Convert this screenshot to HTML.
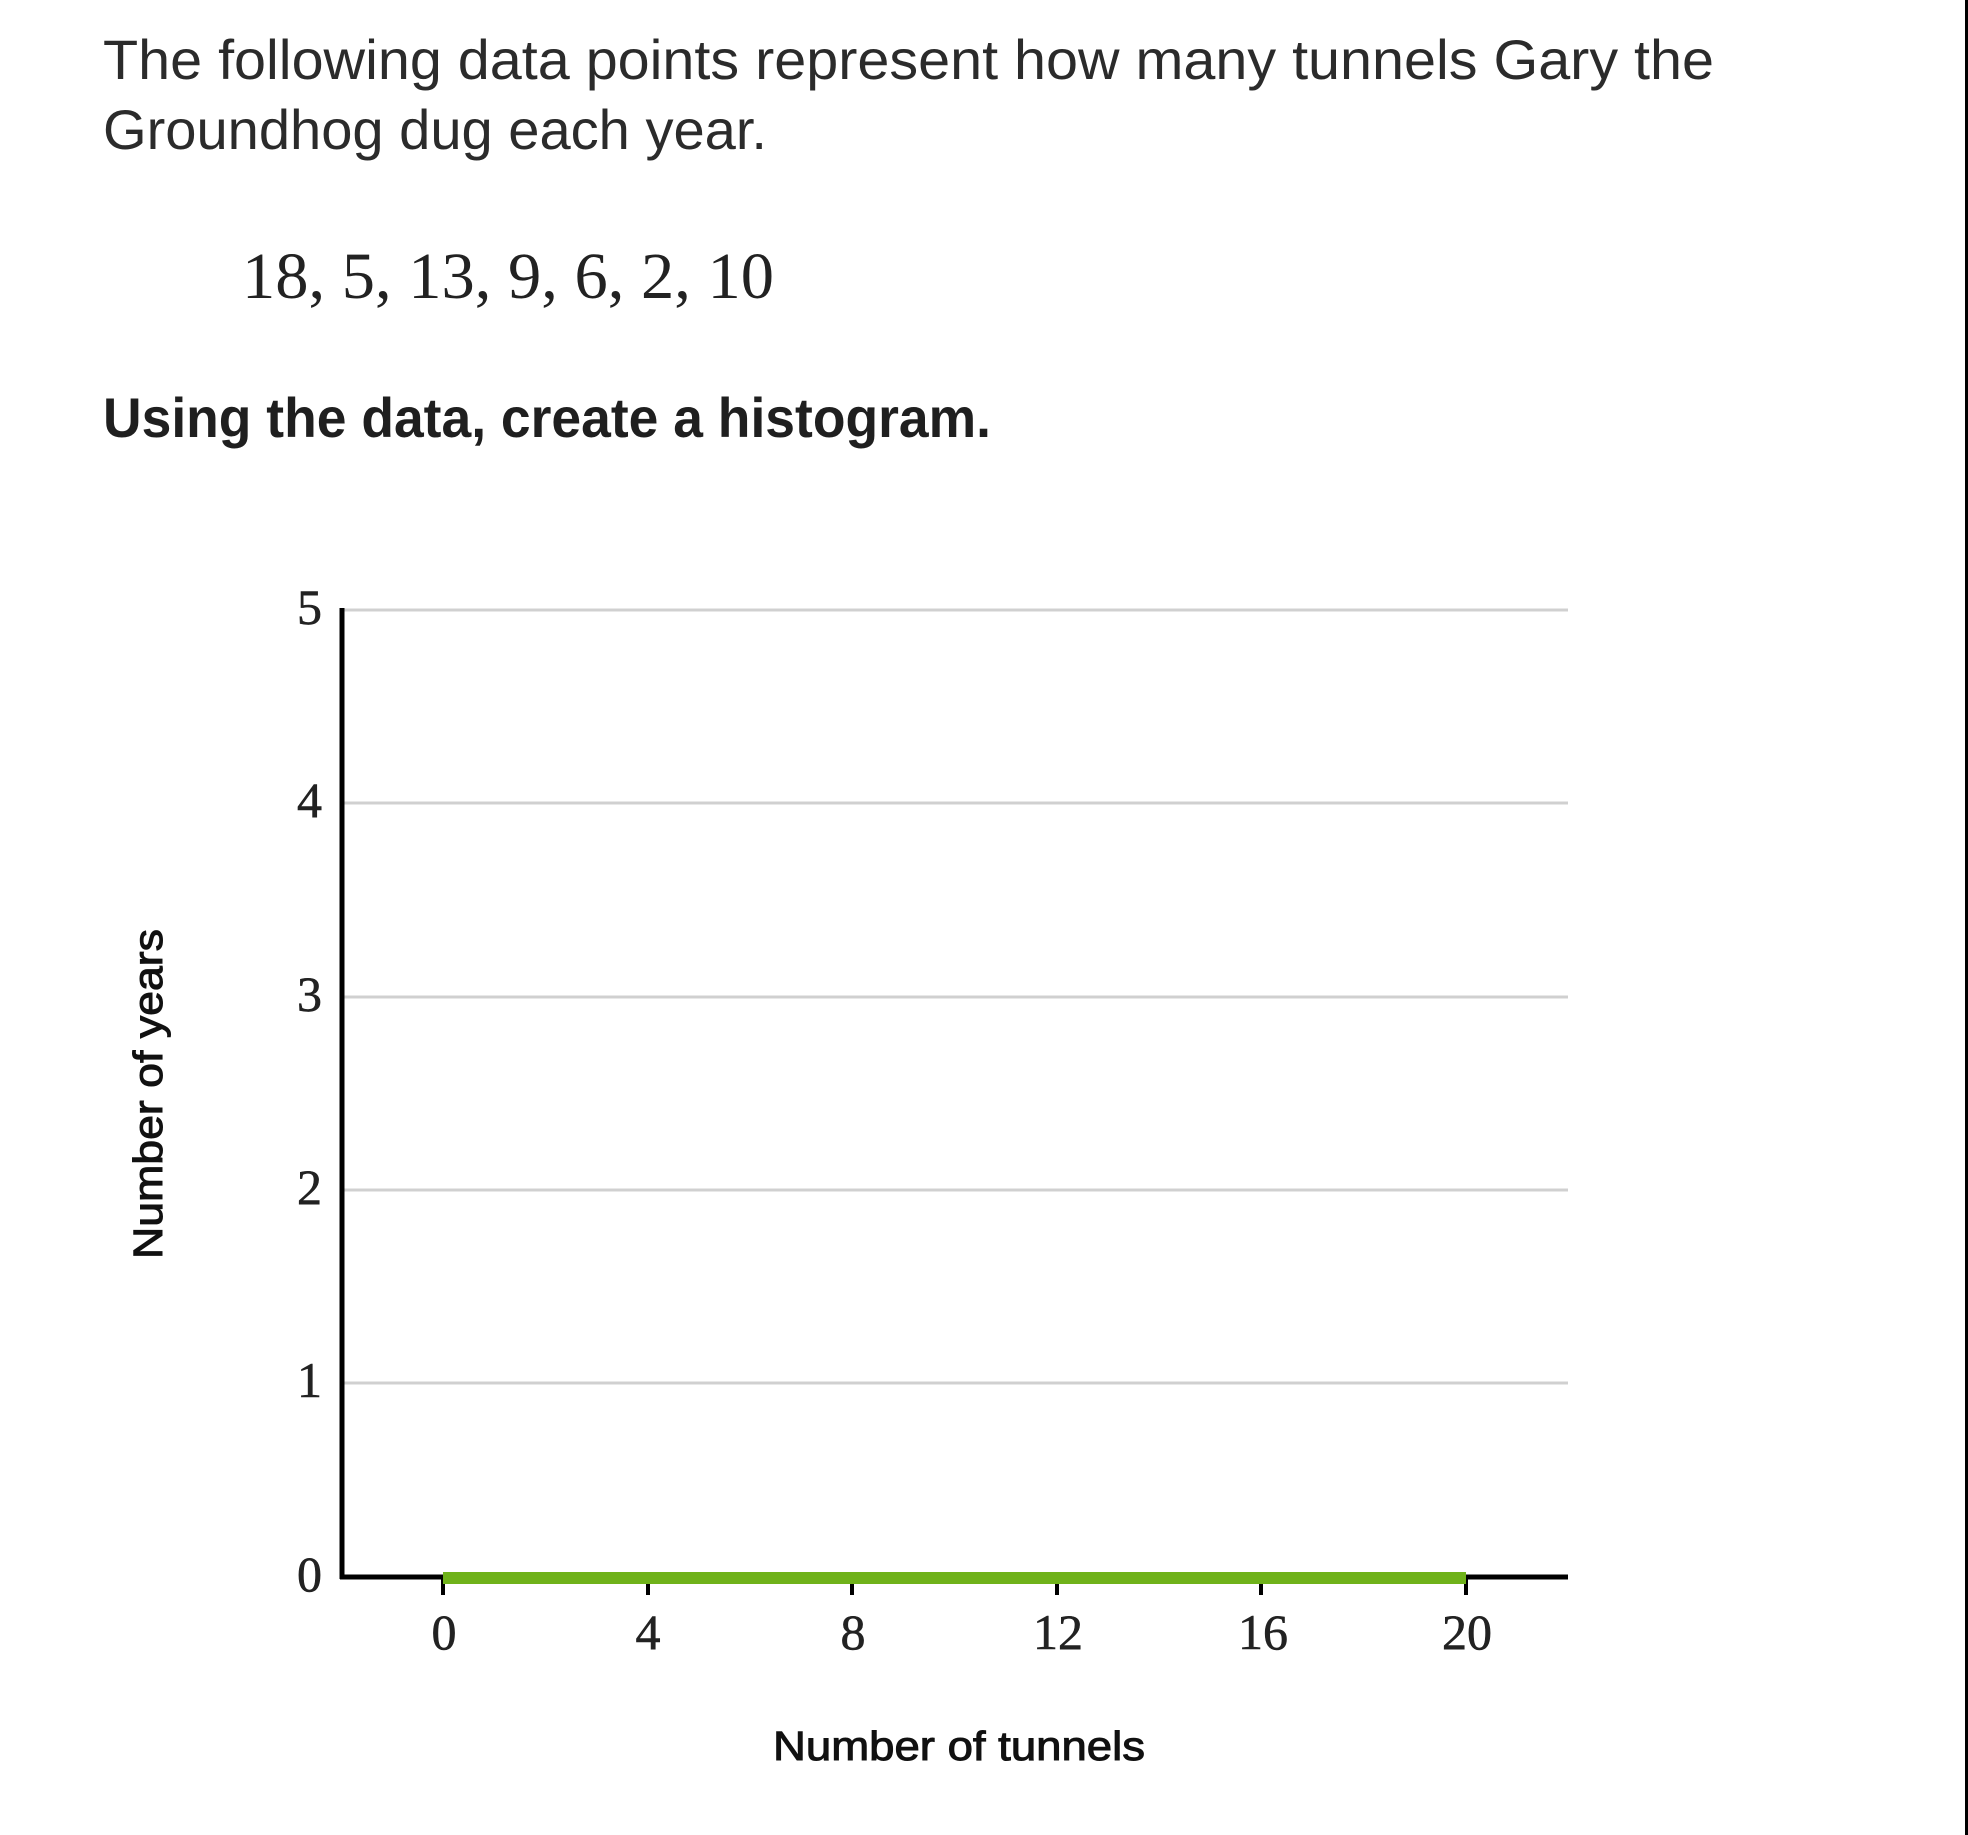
<!DOCTYPE html>
<html><head><meta charset="utf-8"><style>
html,body{margin:0;padding:0;background:#fff;}
svg{display:block;}
</style></head><body>
<svg width="1968" height="1835" viewBox="0 0 1968 1835" xmlns="http://www.w3.org/2000/svg">
<rect width="1968" height="1835" fill="#fff"/>
<rect x="1965" y="0" width="3" height="1835" fill="#000"/>
<g font-family="'Liberation Sans', sans-serif" fill="#2b2b2b">
<text x="103" y="79" font-size="56" textLength="1611" lengthAdjust="spacingAndGlyphs">The following data points represent how many tunnels Gary the</text>
<text x="103" y="149" font-size="56" textLength="664" lengthAdjust="spacingAndGlyphs">Groundhog dug each year.</text>
<text x="103" y="437" font-size="56" font-weight="bold" textLength="888" lengthAdjust="spacingAndGlyphs" fill="#1f1f1f">Using the data, create a histogram.</text>
</g>
<text x="242" y="298" font-family="'Liberation Serif', serif" font-size="66" fill="#222" textLength="532" lengthAdjust="spacingAndGlyphs">18, 5, 13, 9, 6, 2, 10</text>
<g stroke="#d0d0d0" stroke-width="3">
<line x1="343" y1="610" x2="1568" y2="610"/>
<line x1="343" y1="803" x2="1568" y2="803"/>
<line x1="343" y1="997" x2="1568" y2="997"/>
<line x1="343" y1="1190" x2="1568" y2="1190"/>
<line x1="343" y1="1383" x2="1568" y2="1383"/>
</g>
<line x1="342" y1="608" x2="342" y2="1579" stroke="#000" stroke-width="5"/>
<line x1="340" y1="1577" x2="1568" y2="1577" stroke="#000" stroke-width="5"/>
<g stroke="#000" stroke-width="4">
<line x1="443" y1="1575" x2="443" y2="1595"/>
<line x1="648" y1="1575" x2="648" y2="1595"/>
<line x1="852" y1="1575" x2="852" y2="1595"/>
<line x1="1057" y1="1575" x2="1057" y2="1595"/>
<line x1="1261" y1="1575" x2="1261" y2="1595"/>
<line x1="1466" y1="1575" x2="1466" y2="1595"/>
</g>
<line x1="443" y1="1578" x2="1466" y2="1578" stroke="#6fb21a" stroke-width="12"/>
<g font-family="'Liberation Serif', serif" font-size="50" fill="#222" text-anchor="end" stroke="#222" stroke-width="0.6">
<text x="322" y="624">5</text>
<text x="322" y="817">4</text>
<text x="322" y="1011">3</text>
<text x="322" y="1204">2</text>
<text x="322" y="1397">1</text>
<text x="322" y="1591">0</text>
</g>
<g font-family="'Liberation Serif', serif" font-size="50" fill="#222" text-anchor="middle" stroke="#222" stroke-width="0.6">
<text x="444" y="1649">0</text>
<text x="648" y="1649">4</text>
<text x="853" y="1649">8</text>
<text x="1058" y="1649">12</text>
<text x="1263" y="1649">16</text>
<text x="1467" y="1649">20</text>
</g>
<text x="959" y="1760" font-family="'Liberation Sans', sans-serif" font-size="41" fill="#111" text-anchor="middle" stroke="#111" stroke-width="1" textLength="372" lengthAdjust="spacingAndGlyphs">Number of tunnels</text>
<text transform="translate(162,1094) rotate(-90)" font-family="'Liberation Sans', sans-serif" font-size="41" fill="#111" stroke="#111" stroke-width="1" text-anchor="middle" textLength="330" lengthAdjust="spacingAndGlyphs">Number of years</text>
</svg>
</body></html>
